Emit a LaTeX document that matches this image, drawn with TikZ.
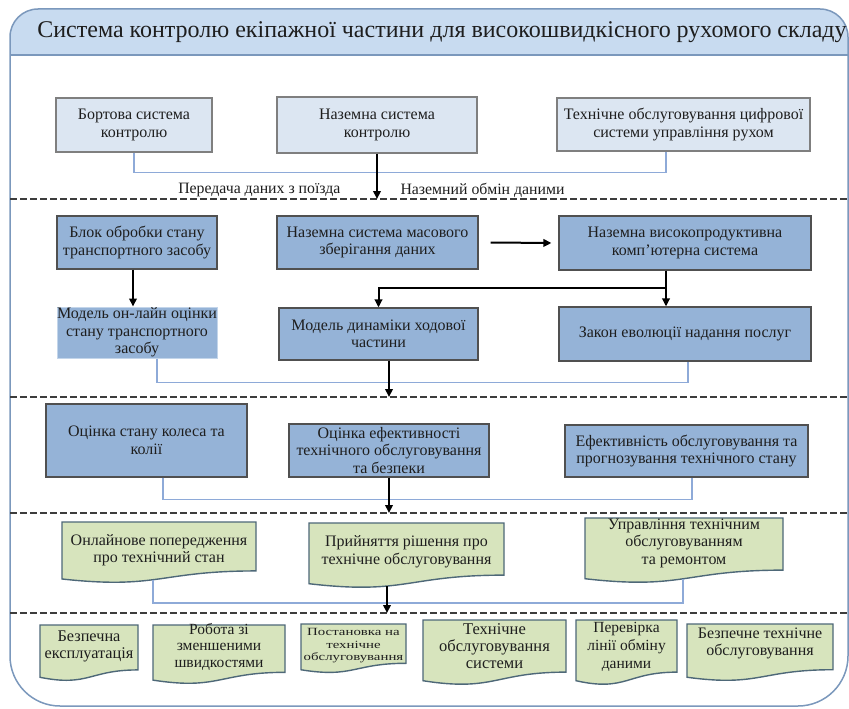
\documentclass[tikz,border=0pt]{standalone}
\usepackage{fontspec}
\usepackage{graphicx}
\setmainfont{Liberation Serif}
\usetikzlibrary{arrows.meta,calc}

\definecolor{framec}{HTML}{7B98BC}
\definecolor{headc}{HTML}{C8DBF0}
\definecolor{paleboxc}{HTML}{DCE6F2}
\definecolor{paleedgec}{HTML}{7F7F7F}
\definecolor{blueboxc}{HTML}{95B3D7}
\definecolor{blueedgec}{HTML}{505050}
\definecolor{softedgec}{HTML}{C3D5EA}
\definecolor{linkc}{HTML}{8EAAD8}
\definecolor{greenboxc}{HTML}{D7E4BD}
\definecolor{greenedgec}{HTML}{4E6878}
\definecolor{dashc}{HTML}{3C3C3C}
\definecolor{inkc}{HTML}{1E1E1E}

\tikzset{
  txt/.style={align=center, text=inkc, font=\fontsize{16}{17.5}\selectfont},
  palebox/.style={txt, draw=paleedgec, line width=1.3pt, fill=paleboxc, inner sep=0pt},
  bluebox/.style={txt, draw=blueedgec, line width=1.2pt, fill=blueboxc, inner sep=0pt},
  softbox/.style={txt, draw=softedgec, line width=1pt, fill=blueboxc, inner sep=0pt},
  docgeom/.style={inner sep=0pt, outer sep=0pt},
  docshape/.style={draw=greenedgec, fill=greenboxc, line width=1.4pt},
  arr/.style={draw=black, line width=2pt, -{Triangle[length=8pt,width=7.5pt]}},
  bracket/.style={draw=linkc, line width=1.3pt},
  divider/.style={draw=dashc, line width=2.2pt, dash pattern=on 6.5pt off 3.5pt},
  framestyle/.style={draw=framec, line width=1.5pt},
}

% document (wavy bottom) outline around a named geometry node
\newcommand\docoutline[1]{%
  \filldraw[docshape] (#1.north west) -- (#1.north east)
    -- ($(#1.north east)!0.802!(#1.south east)$)
    .. controls ($(#1.north)!0.802!(#1.south)$) and ($(#1.north)!1.108!(#1.south)$)
    .. ($(#1.north west)!0.934!(#1.south west)$) -- cycle;}

\begin{document}
\begin{tikzpicture}[x=1pt, y=-1pt]
\useasboundingbox (0,0) rectangle (849,709);

% outer frame and header band
\begin{scope}
  \clip (10,380) [rounded corners=28pt] -- (10,9) -- (848,9) -- (848,380)
        [rounded corners=50pt] -- (848,706) -- (10,706) -- cycle;
  \fill[white] (0,0) rectangle (849,709);
  \fill[headc] (0,0) rectangle (849,55);
\end{scope}
\draw[framec, line width=1.2pt] (10,55) -- (848,55);
\draw[framestyle] (10,380) [rounded corners=28pt] -- (10,9) -- (848,9) -- (848,380)
      [rounded corners=50pt] -- (848,706) -- (10,706) -- cycle;

\node[anchor=base, text=inkc, font=\fontsize{24}{28}\selectfont] (title) at (442,37.5)
  {Система контролю екіпажної частини для високошвидкісного рухомого складу};

% section dividers
\coordinate (d1a) at (10,199);  \coordinate (d1b) at (849,199);
\coordinate (d2a) at (10,397);  \coordinate (d2b) at (849,397);
\coordinate (d3a) at (10,513);  \coordinate (d3b) at (849,513);
\coordinate (d4a) at (10,613);  \coordinate (d4b) at (849,613);
\foreach \s in {1,2,3,4} \draw[divider] (d\s a) -- (d\s b);

% level 1: monitoring systems
\node[palebox, minimum width=156pt, minimum height=54pt] (b1) at (134,125)
  {Бортова система\\контролю};
\node[palebox, minimum width=200pt, minimum height=56pt] (b2) at (377,125)
  {Наземна система\\контролю};
\node[palebox, minimum width=253pt, minimum height=53pt] (b3) at (683.5,124.5)
  {Технічне обслуговування цифрової\\системи управління рухом};

\node[txt, anchor=east, font=\fontsize{15.8}{17}\selectfont] (lbl1) at (344,190)
  {Передача даних з поїзда};
\node[txt, anchor=west, font=\fontsize{15.8}{17}\selectfont] (lbl2) at (397,190)
  {Наземний обмін даними};

% level 2: processing
\node[bluebox, minimum width=160pt, minimum height=53pt] (c1) at (137,242.5)
  {Блок обробки стану\\транспортного засобу};
\node[bluebox, minimum width=201pt, minimum height=53pt] (c2) at (377.5,242.5)
  {Наземна система масового\\зберігання даних};
\node[bluebox, minimum width=252pt, minimum height=54pt] (c3) at (685,243)
  {Наземна високопродуктивна\\комп'ютерна система};
\node[softbox, minimum width=160pt, minimum height=51pt] (c4) at (137,332.5)
  {Модель он-лайн оцінки\\стану транспортного\\засобу};
\node[bluebox, minimum width=199pt, minimum height=52pt] (c5) at (378.5,334)
  {Модель динаміки ходової\\частини};
\node[bluebox, minimum width=252pt, minimum height=54pt] (c6) at (685,334)
  {Закон еволюції надання послуг};

% level 3: evaluation
\node[bluebox, minimum width=201pt, minimum height=73pt] (e1) at (146.5,440.5)
  {Оцінка стану колеса та\\колії};
\node[bluebox, minimum width=200pt, minimum height=53pt] (e2) at (389,450.5)
  {Оцінка ефективності\\технічного обслуговування\\та безпеки};
\node[bluebox, minimum width=243pt, minimum height=52pt] (e3) at (686.5,451)
  {Ефективність обслуговування та\\прогнозування технічного стану};

% level 4: decisions
\node[docgeom, minimum width=194pt, minimum height=61pt] (f1) at (159,552.5) {};
\node[docgeom, minimum width=195pt, minimum height=65pt] (f2) at (406.5,555.5) {};
\node[docgeom, minimum width=198pt, minimum height=65pt] (f3) at (684,550.5) {};
\docoutline{f1}\docoutline{f2}\docoutline{f3}
\node[txt] (f1t) at (159,550) {Онлайнове попередження\\про технічний стан};
\node[txt] (f2t) at (406.5,551.5) {Прийняття рішення про\\технічне обслуговування};
\node[txt] (f3t) at (684,543) {Управління технічним\\обслуговуванням\\та ремонтом};

% level 5: actions
\node[docgeom, minimum width=98pt,  minimum height=56pt] (g1) at (89,653) {};
\node[docgeom, minimum width=132pt, minimum height=59pt] (g2) at (219,654.5) {};
\node[docgeom, minimum width=105pt, minimum height=49pt] (g3) at (353.5,648.5) {};
\node[docgeom, minimum width=143pt, minimum height=65pt] (g4) at (494.5,652.5) {};
\node[docgeom, minimum width=101pt, minimum height=65pt] (g5) at (626.5,652.5) {};
\node[docgeom, minimum width=146pt, minimum height=57pt] (g6) at (760,652.5) {};
\foreach \n in {g1,g2,g3,g4,g5,g6} {\docoutline{\n}}
\node[txt, font=\fontsize{16.3}{17}\selectfont] (g1t) at (89,646.5) {Безпечна\\експлуатація};
\node[txt, font=\fontsize{15.5}{16.5}\selectfont] (g2t) at (219,646.5) {Робота зі\\зменшеними\\швидкостями};
\node[txt] (g3t) at (353.5,645.5)
  {\scalebox{1.35}[1]{\fontsize{11}{12.5}\selectfont
   \begin{tabular}{@{}c@{}}Постановка на\\технічне\\обслуговування\end{tabular}}};
\node[txt, font=\fontsize{16.5}{17}\selectfont] (g4t) at (494.5,646) {Технічне\\обслуговування\\системи};
\node[txt, font=\fontsize{15.5}{18}\selectfont] (g5t) at (626.5,646.5) {Перевірка\\лінії обміну\\даними};
\node[txt, font=\fontsize{16}{17}\selectfont] (g6t) at (760,643.5) {Безпечне технічне\\обслуговування};

% connectors
\draw[bracket] (b1.south) -- ++(0,20) -| ([xshift=-17.5pt]b3.south);
\draw[arr] (b2.south) -- (b2.south |- d1a);

\draw[arr] ([xshift=-4pt]c1.south) -- ([xshift=-4pt]c4.north);
\draw[arr] ([xshift=12pt]c2.east) -- ([xshift=-7pt]c3.west);
\draw[arr] ([xshift=-19pt]c3.south) -- ++(0,17) -| (c5.north);
\draw[arr] ([xshift=-19pt]c3.south) -- ([xshift=-19pt]c6.north);
\draw[bracket] ([xshift=20pt]c4.south) -- ++(0,24) -| ([xshift=3pt]c6.south);
\draw[arr] ([xshift=10.5pt]c5.south) -- ([xshift=10.5pt]c5.south |- d2a);

\draw[bracket] ([xshift=16.5pt]e1.south) -- ++(0,22) -| ([xshift=5.5pt]e3.south);
\draw[arr] (e2.south) -- (e2.south |- d3a);

\draw[bracket] ([xshift=-6pt,yshift=3pt]f1.south) |- ($(f1.south)!0.5!(f3.south)+(0,20)$) -| ([xshift=-1pt,yshift=4.4pt]f3.south);
\draw[arr] ([xshift=-19.5pt,yshift=2pt]f2.south) -- ([xshift=-19.5pt]f2.south |- d4a);
\end{tikzpicture}
\end{document}
